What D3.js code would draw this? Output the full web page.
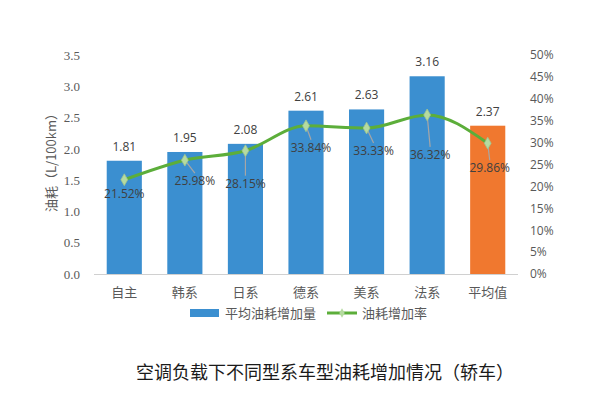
<!DOCTYPE html>
<html>
<head>
<meta charset="utf-8">
<script src="https://cdn.jsdelivr.net/npm/d3@7"></script>
<style>
  body { margin: 0; background: #fff; }
  svg { display: block; }
</style>
</head>
<body>
<div id="chart"></div>
<script>
const categories = ["自主", "韩系", "日系", "德系", "美系", "法系", "平均值"];
const fuelIncrease = [1.81, 1.95, 2.08, 2.61, 2.63, 3.16, 2.37];
const rateIncrease = [0.2152, 0.2598, 0.2815, 0.3384, 0.3333, 0.3632, 0.2986];
const leftTicks = [0, 0.5, 1.0, 1.5, 2.0, 2.5, 3.0, 3.5];
const rightTicks = [0, 0.05, 0.1, 0.15, 0.2, 0.25, 0.3, 0.35, 0.4, 0.45, 0.5];

// where the percent labels sit, offset from their point
const labelOffsets = [[0, 14], [10, 21], [0, 33], [5, 22], [7, 23], [3, 40], [2, 25]];

const width = 600, height = 396;
const m = { left: 94, right: 82, top: 55, bottom: 122 };

const svg = d3.select("#chart").append("svg")
  .attr("width", width)
  .attr("height", height);

const x = d3.scaleBand()
  .domain(categories)
  .range([m.left, width - m.right])
  .paddingInner(0.42)
  .paddingOuter(0.21);

const yL = d3.scaleLinear().domain([0, 3.5]).range([height - m.bottom, m.top]);
const yR = d3.scaleLinear().domain([0, 0.5]).range([height - m.bottom, m.top]);

const grey = "#595959";
const sans = "'Open Sans', 'Noto Sans', sans-serif";
const cjk = "'Noto Sans CJK SC', sans-serif";

// bars
svg.selectAll("rect.bar")
  .data(fuelIncrease)
  .enter()
  .append("rect")
  .attr("class", "bar")
  .attr("x", (d, i) => x(categories[i]))
  .attr("y", d => yL(d))
  .attr("width", x.bandwidth())
  .attr("height", d => yL(0) - yL(d))
  .attr("fill", (d, i) => i === categories.length - 1 ? "#f0782f" : "#3b8fd0");

// bar value labels
svg.selectAll("text.val")
  .data(fuelIncrease)
  .enter()
  .append("text")
  .attr("x", (d, i) => x(categories[i]) + x.bandwidth() / 2)
  .attr("y", d => yL(d) - 10)
  .attr("text-anchor", "middle")
  .style("font-family", sans)
  .style("font-size", "12px")
  .attr("fill", "#404040")
  .text(d => d.toFixed(2));

// bottom axis line
svg.append("line")
  .attr("x1", m.left).attr("x2", width - m.right)
  .attr("y1", yL(0) + 0.5).attr("y2", yL(0) + 0.5)
  .attr("stroke", "#d0d0d0");

// left axis
const leftAxis = svg.append("g")
  .attr("transform", "translate(" + (m.left - 11) + ",0)")
  .call(d3.axisLeft(yL).tickValues(leftTicks).tickFormat(d3.format(".1f")).tickSize(0));
leftAxis.select(".domain").remove();
leftAxis.selectAll("text")
  .style("font-family", "'Liberation Serif', serif")
  .style("font-size", "13px")
  .attr("fill", grey);

// right axis
const rightAxis = svg.append("g")
  .attr("transform", "translate(" + (width - m.right + 9) + ",0)")
  .call(d3.axisRight(yR).tickValues(rightTicks).tickFormat(d3.format(".0%")).tickSize(0));
rightAxis.select(".domain").remove();
rightAxis.selectAll("text")
  .style("font-family", sans)
  .style("font-size", "12px")
  .attr("fill", grey);

// category labels
svg.selectAll("text.cat")
  .data(categories)
  .enter()
  .append("text")
  .attr("x", d => x(d) + x.bandwidth() / 2)
  .attr("y", yL(0) + 23)
  .attr("text-anchor", "middle")
  .style("font-family", cjk)
  .style("font-size", "13px")
  .attr("fill", grey)
  .text(d => d);

// y axis title
svg.append("text")
  .attr("transform", "translate(56," + ((yL(0) + yL(3.5)) / 2 - 5) + ") rotate(-90)")
  .attr("text-anchor", "middle")
  .style("font-family", cjk)
  .style("font-size", "13px")
  .attr("fill", grey)
  .text("油耗（L/100km）");

// line
const px = i => x(categories[i]) + x.bandwidth() / 2;
const line = d3.line()
  .x((d, i) => px(i))
  .y(d => yR(d))
  .curve(d3.curveMonotoneX);

svg.append("path")
  .datum(rateIncrease)
  .attr("d", line)
  .attr("fill", "none")
  .attr("stroke", "#5cae3a")
  .attr("stroke-width", 3);

// leader lines to the labels that were pushed away
rateIncrease.forEach((d, i) => {
  const off = labelOffsets[i];
  if (off[1] > 16) {
    svg.append("line")
      .attr("x1", px(i)).attr("y1", yR(d))
      .attr("x2", px(i) + off[0]).attr("y2", yR(d) + off[1] - 8)
      .attr("stroke", "#a6a6a6")
      .attr("stroke-width", 1.2);
  }
});

// markers
svg.selectAll("path.marker")
  .data(rateIncrease)
  .enter()
  .append("path")
  .attr("d", d3.symbol().type(d3.symbolDiamond).size(40))
  .attr("transform", (d, i) => "translate(" + px(i) + "," + yR(d) + ")")
  .attr("fill", "#b5dba0")
  .attr("stroke", "#9fc48f")
  .attr("stroke-width", 0.8);

// percent labels
svg.selectAll("text.pct")
  .data(rateIncrease)
  .enter()
  .append("text")
  .attr("x", (d, i) => px(i) + labelOffsets[i][0])
  .attr("y", (d, i) => yR(d) + labelOffsets[i][1] + 4)
  .attr("text-anchor", "middle")
  .style("font-family", sans)
  .style("font-size", "12px")
  .attr("fill", "#404040")
  .text(d => (d * 100).toFixed(2) + "%");

// legend
const lg = svg.append("g").attr("transform", "translate(190,313)");
lg.append("rect")
  .attr("x", 0).attr("y", -4)
  .attr("width", 29).attr("height", 8)
  .attr("fill", "#3b8fd0");
lg.append("text")
  .attr("x", 35).attr("y", 4.5)
  .style("font-family", cjk)
  .style("font-size", "13px")
  .attr("fill", grey)
  .text("平均油耗增加量");
lg.append("line")
  .attr("x1", 137).attr("x2", 167)
  .attr("y1", 0).attr("y2", 0)
  .attr("stroke", "#5cae3a")
  .attr("stroke-width", 3);
lg.append("path")
  .attr("d", d3.symbol().type(d3.symbolDiamond).size(25))
  .attr("transform", "translate(152,0)")
  .attr("fill", "#b5dba0");
lg.append("text")
  .attr("x", 172).attr("y", 4.5)
  .style("font-family", cjk)
  .style("font-size", "13px")
  .attr("fill", grey)
  .text("油耗增加率");

// caption
svg.append("text")
  .attr("x", 325)
  .attr("y", 379)
  .attr("text-anchor", "middle")
  .style("font-family", cjk)
  .style("font-size", "18px")
  .attr("fill", "#1a1a1a")
  .text("空调负载下不同型系车型油耗增加情况（轿车）");
</script>
</body>
</html>
